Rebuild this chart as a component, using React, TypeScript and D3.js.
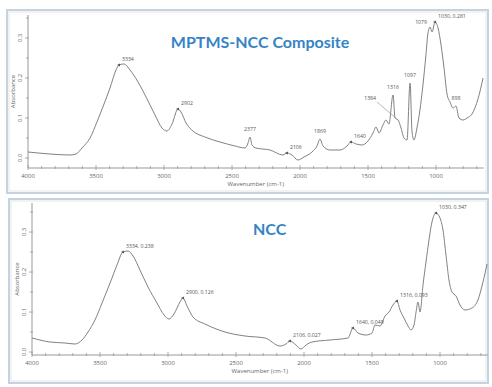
import * as d3 from 'd3'

// wavenumber axis (cm-1) and absorbance axis
const WN_TICKS = [4000, 3500, 3000, 2500, 2000, 1500, 1000]
const ABS_TICKS = [0, 0.1, 0.2, 0.3]

// MPTMS-NCC composite spectrum
const compWn = [4000, 3838, 3691, 3647, 3603, 3544, 3493, 3441, 3397, 3353, 3331, 3294, 3250, 3191, 3132, 3066, 3015, 2978, 2941, 2897, 2875, 2838, 2787, 2699, 2588, 2478, 2404, 2382, 2368, 2353, 2324, 2221, 2125, 2096, 2059, 2015, 1971, 1912, 1875, 1853, 1831, 1779, 1706, 1654, 1625, 1588, 1544, 1500, 1463, 1441, 1419, 1390, 1368, 1346, 1316, 1301, 1279, 1257, 1235, 1213, 1191, 1176, 1162, 1140, 1118, 1096, 1074, 1059, 1044, 1029, 1007, 985, 963, 941, 919, 897, 875, 853, 831, 801, 772, 735, 691, 654]
const compAbs = [0.015, 0.01, 0.0075, 0.01, 0.025, 0.05, 0.09, 0.135, 0.175, 0.22, 0.2325, 0.235, 0.22, 0.19, 0.1525, 0.1075, 0.075, 0.0675, 0.085, 0.1225, 0.115, 0.0875, 0.0675, 0.0525, 0.04, 0.03, 0.025, 0.0375, 0.0525, 0.0325, 0.025, 0.02, 0.0075, 0.0125, 0.0075, -0.005, 0.0025, 0.015, 0.03, 0.0475, 0.03, 0.02, 0.02, 0.03, 0.04, 0.035, 0.0325, 0.0425, 0.0625, 0.0775, 0.0625, 0.0825, 0.095, 0.085, 0.1575, 0.1, 0.095, 0.075, 0.05, 0.045, 0.1875, 0.065, 0.045, 0.075, 0.12, 0.1825, 0.2575, 0.3125, 0.3275, 0.315, 0.34, 0.325, 0.2825, 0.225, 0.16, 0.14, 0.125, 0.13, 0.1, 0.095, 0.1, 0.11, 0.148, 0.2]

// NCC spectrum
const nccWn = [4000, 3868, 3757, 3684, 3632, 3588, 3537, 3485, 3426, 3375, 3331, 3294, 3257, 3206, 3147, 3081, 3029, 2993, 2956, 2912, 2890, 2860, 2816, 2728, 2581, 2434, 2287, 2176, 2132, 2103, 2059, 2022, 1985, 1941, 1809, 1676, 1640, 1603, 1544, 1500, 1478, 1441, 1404, 1375, 1346, 1316, 1294, 1265, 1235, 1213, 1191, 1176, 1162, 1147, 1125, 1103, 1081, 1059, 1029, 1000, 978, 956, 934, 912, 882, 853, 816, 765, 721, 684, 654]
const nccAbs = [0.035, 0.025, 0.0225, 0.02, 0.03, 0.05, 0.08, 0.1225, 0.1725, 0.2175, 0.25, 0.2525, 0.24, 0.205, 0.1625, 0.1225, 0.0925, 0.0825, 0.095, 0.125, 0.135, 0.115, 0.0875, 0.07, 0.05, 0.04, 0.035, 0.015, 0.02, 0.0275, 0.0175, 0.0075, 0.0175, 0.025, 0.03, 0.035, 0.06, 0.0475, 0.0425, 0.0475, 0.0675, 0.065, 0.09, 0.1, 0.1175, 0.1275, 0.105, 0.085, 0.065, 0.055, 0.0675, 0.1, 0.125, 0.1, 0.1675, 0.225, 0.28, 0.325, 0.3475, 0.335, 0.305, 0.2425, 0.18, 0.15, 0.14, 0.1175, 0.105, 0.11, 0.13, 0.175, 0.22]

// peak annotations
const compPeakWn = [3331, 2897, 2368, 2096, 1853, 1625, 1279, 1316, 1191, 1044, 1007, 853]
const compPeakText = ['3334', '2902', '2377', '2106', '1869', '1640', '1384', '1316', '1097', '1079', '1030, 0.281', '898']
const compPeakPlace = ['right', 'right', 'above', 'right', 'above', 'right', 'leader', 'above', 'above', 'left', 'right', 'above']

const nccPeakWn = [3331, 2890, 2103, 1640, 1316, 1029]
const nccPeakText = ['3334, 0.238', '2900, 0.126', '2106, 0.027', '1640, 0.049', '1316, 0.093', '1030, 0.347']

const FONT = '"Open Sans", sans-serif'
const TITLE_FONT = 'Lato, "Open Sans", sans-serif'
const INK = '#666'

interface PanelProps {
  box: { x: number; y: number; w: number; h: number }
  plot: { l: number; r: number; t: number; b: number }
  yDomain: [number, number]
  wn: number[]
  abs: number[]
  peakWn: number[]
  peakText: string[]
  peakPlace: string[]
  title: string
  titleX: number
  titleY: number
  titleSize: number
  titleAnchor: string
}

function interp(wn: number[], abs: number[], w: number) {
  for (let i = 0; i < wn.length - 1; i++) {
    if (w <= wn[i] && w >= wn[i + 1]) {
      const f = (wn[i] - w) / (wn[i] - wn[i + 1])
      return abs[i] + f * (abs[i + 1] - abs[i])
    }
  }
  return abs[abs.length - 1]
}

function Panel(p: PanelProps) {
  const { plot } = p
  const x = d3.scaleLinear().domain([4000, 650]).range([plot.l, plot.l + (3350 / 500) * 68])
  const y = d3.scaleLinear().domain(p.yDomain).range([plot.b, plot.t])
  const pts = p.wn.map((w, i) => [w, p.abs[i]] as [number, number])
  const line = d3.line<[number, number]>().x((d) => x(d[0])).y((d) => y(d[1])).curve(d3.curveMonotoneX)
  const minorX = d3.range(4000, 640, -100)
  const minorY = d3.range(0, p.yDomain[1], 0.05)
  const right = x(650)

  return (
    <g>
      <rect x={p.box.x} y={p.box.y} width={p.box.w} height={p.box.h} fill="#fff" stroke="#c5d2df" strokeWidth={2} />
      <rect x={p.box.x + 2} y={p.box.y + 2} width={p.box.w - 4} height={p.box.h - 4} fill="none" stroke="#e6e6e6" strokeWidth={1} />
      {/* axes */}
      <line x1={plot.l} x2={plot.l} y1={plot.t} y2={plot.b} stroke="#999" strokeWidth={1} />
      <line x1={plot.l} x2={right} y1={plot.b} y2={plot.b} stroke="#999" strokeWidth={1} />
      {minorX.map((t) => (
        <line key={'mx' + t} x1={x(t)} x2={x(t)} y1={plot.b - (t % 500 === 0 ? 3 : 2)} y2={plot.b + (t % 500 === 0 ? 2 : 1)} stroke="#999" strokeWidth={0.8} />
      ))}
      {WN_TICKS.map((t) => (
        <text key={'xl' + t} x={x(t)} y={plot.b + 10} fontSize={6} fill={INK} textAnchor="middle" fontFamily={FONT}>{t}</text>
      ))}
      <text x={(plot.l + right) / 2} y={plot.b + 18} fontSize={6} fill={INK} textAnchor="middle" fontFamily={FONT}>Wavenumber (cm-1)</text>
      {minorY.map((t, i) => (
        <line key={'my' + i} x1={plot.l - (i % 2 === 0 ? 3 : 2)} x2={plot.l + 1} y1={y(t)} y2={y(t)} stroke="#999" strokeWidth={0.8} />
      ))}
      {ABS_TICKS.map((t) => (
        <text key={'yl' + t} transform={`translate(${plot.l - 6},${y(t)}) rotate(-90)`} fontSize={6} fill={INK} textAnchor="middle" fontFamily={FONT}>{t.toFixed(1)}</text>
      ))}
      <text transform={`translate(${plot.l - 13},${(plot.t + plot.b) / 2}) rotate(-90)`} fontSize={6} fill={INK} textAnchor="middle" fontFamily={FONT}>Absorbance</text>

      <path d={line(pts) ?? ''} fill="none" stroke="#7a7a7a" strokeWidth={0.95} />

      {p.peakWn.map((w, i) => {
        const px = x(w)
        const py = y(interp(p.wn, p.abs, w))
        const place = p.peakPlace[i]
        let lx = px + 3
        let ly = py - 4
        let anchor = 'start'
        if (place === 'above') { lx = px; ly = py - 6; anchor = 'middle' }
        if (place === 'left') { lx = px - 3; ly = py - 3; anchor = 'end' }
        if (place === 'leader') { lx = px - 22; ly = py - 20; anchor = 'end' }
        return (
          <g key={'pk' + i}>
            {place === 'leader' && <line x1={lx + 1} y1={ly + 2} x2={px} y2={py} stroke="#888" strokeWidth={0.6} />}
            {place === 'right' && (
              <path d={`M${px - 2},${py} L${px + 1},${py - 1.6} L${px + 1},${py + 1.6} Z`} fill="#555" />
            )}
            <text x={lx} y={ly} fontSize={5.2} fill="#555" textAnchor={anchor} fontFamily={FONT}>{p.peakText[i]}</text>
          </g>
        )
      })}

      <text x={p.titleX} y={p.titleY} fontSize={p.titleSize} fontWeight="bold" fill="#3584c6" textAnchor={p.titleAnchor} fontFamily={TITLE_FONT}>{p.title}</text>
    </g>
  )
}

export default function App() {
  return (
    <svg width={492} height={387} style={{ position: 'absolute', left: 0, top: 0, background: '#fff' }}>
      <Panel
        box={{ x: 7, y: 10, w: 481, h: 183 }}
        plot={{ l: 28, r: 484, t: 15, b: 168 }}
        yDomain={[-0.025, 0.3575]}
        wn={compWn}
        abs={compAbs}
        peakWn={compPeakWn}
        peakText={compPeakText}
        peakPlace={compPeakPlace}
        title="MPTMS-NCC Composite"
        titleX={260}
        titleY={48}
        titleSize={16}
        titleAnchor="middle"
      />
      <Panel
        box={{ x: 9, y: 199, w: 479, h: 184 }}
        plot={{ l: 32, r: 488, t: 203, b: 355 }}
        yDomain={[-0.0075, 0.3725]}
        wn={nccWn}
        abs={nccAbs}
        peakWn={nccPeakWn}
        peakText={nccPeakText}
        peakPlace={nccPeakWn.map(() => 'right')}
        title="NCC"
        titleX={253}
        titleY={235}
        titleSize={16}
        titleAnchor="start"
      />
    </svg>
  )
}
